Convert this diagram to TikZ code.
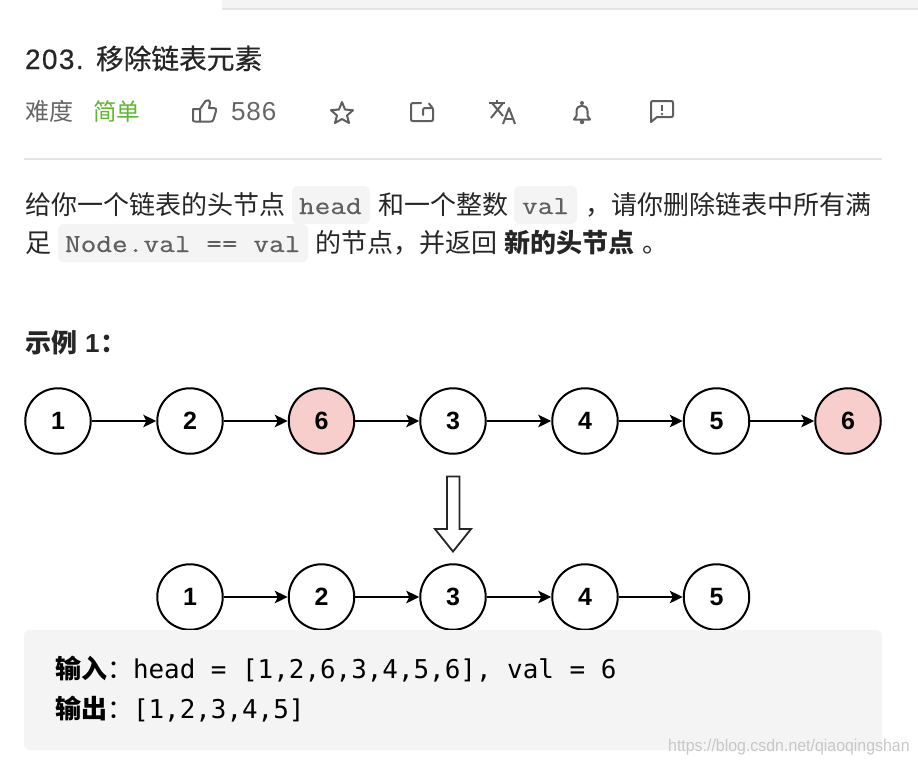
\documentclass[tikz,border=0pt]{standalone}
\usepackage{fontspec}
\usetikzlibrary{arrows.meta}
\setmainfont{Liberation Sans}
\setmonofont{Latin Modern Mono}
\newfontfamily\cjk{Noto Sans CJK SC}
\newfontfamily\cjkmid[FakeBold=0.5]{Noto Sans CJK SC}
\newfontfamily\blockmono{DejaVu Sans Mono}
\definecolor{ink}{HTML}{262626}
\definecolor{muted}{HTML}{666666}
\definecolor{easy}{HTML}{5CB82E}
\definecolor{chip}{HTML}{F4F4F4}
\definecolor{rule}{HTML}{E4E4E4}
\definecolor{icon}{HTML}{5F5F5F}
\definecolor{code}{HTML}{5F5F5F}
\definecolor{pinkfill}{HTML}{F8CECC}
\newcommand{\sz}[1]{\fontsize{#1}{#1}\selectfont}
\newcommand{\wmark}[1]{\scalebox{0.936}[1]{#1}}
\tikzset{
  x=1pt,y=-1pt,
  txt/.style={anchor=base west,inner sep=0pt,outer sep=0pt,text=ink,font=\cjk\sz{26}},
  codetxt/.style={anchor=base west,inner sep=0pt,outer sep=0pt,text=code,font=\ttfamily\addfontfeature{FakeStretch=1.172,FakeBold=0.4}\sz{26}},
  chipbox/.style={fill=chip,rounded corners=6pt,draw=none},
  lnode/.style={circle,draw=black,line width=2pt,minimum size=65.5pt,inner sep=0pt,fill=white,font=\bfseries\sz{25},text=black},
  rednode/.style={lnode,fill=pinkfill},
  link/.style={-{Stealth[length=13pt,width=12.5pt,inset=3pt]},line width=1.8pt,black},
  iconline/.style={draw=icon,line width=2pt,line join=round,line cap=round},
  blocktxt/.style={anchor=base west,inner sep=0pt,outer sep=0pt,text=black,font=\blockmono\sz{25.9}}
}
\begin{document}
\begin{tikzpicture}
\useasboundingbox (0,0) rectangle (918,764);
\fill[white] (0,0) rectangle (918,764);
% top strip
\fill[chip] (222,0) rectangle (918,8);
\fill[rule] (222,8) rectangle (918,10);
% title
\node[txt,font=\sz{28}\addfontfeature{LetterSpace=5,FakeBold=0.4}] (titlenum) at (25,69) {203.};
\node[txt,font=\cjkmid\sz{27.7}] (title) at (96,69) {移除链表元素};
% meta row
\node[txt,text=muted,font=\cjk\sz{24}] (diff) at (25,120) {难度};
\node[txt,text=easy,font=\cjk\sz{23.5}] (easyword) at (93,120) {简单};
\node[txt,text=muted,font=\sz{26}\addfontfeature{LetterSpace=4}] (likes) at (231,120) {586};
% thumb
\draw[iconline] (193,109) -- (200,109) -- (200,121.5) -- (195,121.5) .. controls (193.5,121.5) and (193,121) .. (193,120) -- cycle;
\draw[iconline] (200,109) -- (205.5,101) .. controls (207,99.5) and (210,100) .. (210,103) -- (209,108) -- (214,108) .. controls (216,108) and (216.5,109.5) .. (216,111) -- (213.5,119.5) .. controls (213,121) and (212,121.5) .. (211,121.5) -- (200,121.5);
% star
\draw[iconline] (342,102) -- (345,109.5) -- (353,110.2) -- (347,115.5) -- (349,123) -- (342,119) -- (335,123) -- (337,115.5) -- (331,110.2) -- (339,109.5) -- cycle;
% share
\draw[iconline] (421,103) -- (413,103) .. controls (411.5,103) and (411,104) .. (411,105) -- (411,119) .. controls (411,120.5) and (411.5,121) .. (413,121) -- (431,121) .. controls (432.5,121) and (433,120.5) .. (433,119) -- (433,109);
\draw[iconline] (423,115) -- (423,110) .. controls (423,108.5) and (424,108) .. (425,108) -- (432.5,108) -- (429,103.5);
% translate
\draw[iconline,line cap=butt] (489,103) -- (505,103);
\draw[iconline,line cap=butt] (497,100) -- (497,103);
\draw[iconline,line cap=butt] (492,103) -- (503,116);
\draw[iconline,line cap=butt] (503,103) -- (491,118);
\draw[iconline,line cap=butt] (503,124) -- (509,108) -- (515,124);
\draw[iconline,line cap=butt] (505,119) -- (513,119);
% bell
\draw[iconline] (574,119.5) -- (590,119.5) -- (587.5,116) -- (587.5,111) .. controls (587.5,104) and (576.5,104) .. (576.5,111) -- (576.5,116) -- cycle;
\fill[icon] (582,103) circle (2pt);
\fill[icon] (582,122) circle (2.2pt);
% comment
\draw[iconline] (653,101) -- (671,101) .. controls (672.5,101) and (673,101.5) .. (673,103) -- (673,115) .. controls (673,116.5) and (672.5,117) .. (671,117) -- (657,117) -- (651,122) -- (651,103) .. controls (651,101.5) and (651.5,101) .. (653,101) -- cycle;
\draw[draw=icon,line width=2.4pt] (662,105) -- (662,110.5);
\fill[icon] (662,114) circle (1.4pt);
% rule
\fill[rule] (24,158) rectangle (882,160);
% paragraph chips
\fill[chipbox] (292,186) rectangle (370,224);
\fill[chipbox] (514,186) rectangle (577,224);
\fill[chipbox] (58,224) rectangle (308,262);
% paragraph line 1
\node[txt] (p1a) at (25,214) {给你一个链表的头节点};
\node[codetxt] (p1b) at (299,214) {head};
\node[txt] (p1c) at (378,214) {和一个整数};
\node[codetxt] (p1d) at (522,214) {val};
\node[txt] (p1e) at (585,214) {，};
\node[txt] (p1f) at (611,214) {请你删除链表中所有满};
% paragraph line 2
\node[txt] (p2a) at (25,252) {足};
\node[codetxt] (p2b) at (65,252) {Node.val == val};
\node[txt] (p2c) at (315,252) {的节点，并返回};
\node[txt,font=\cjk\bfseries\sz{26}] (p2d) at (504,252) {新的头节点};
\node[txt] (p2e) at (642,252) {。};
% example heading
\node[txt,font=\cjk\bfseries\sz{26}] (ex) at (25,352) {示例};
\node[txt,font=\bfseries\sz{26}] (exn) at (85,352) {1};
\node[txt,font=\cjk\bfseries\sz{26}] (exc) at (100,352) {：};
% first list
\node[lnode] (a1) at (58,421) {1};
\node[lnode] (a2) at (190,421) {2};
\node[rednode] (a3) at (321.5,421) {6};
\node[lnode] (a4) at (453,421) {3};
\node[lnode] (a5) at (585,421) {4};
\node[lnode] (a6) at (716.5,421) {5};
\node[rednode] (a7) at (848,421) {6};
\foreach \p/\q in {a1/a2,a2/a3,a3/a4,a4/a5,a5/a6,a6/a7}{\draw[link] (\p) -- (\q);}
% hollow arrow
\draw[line width=1.8pt,black!85,fill=white,line join=miter] (447,476.5) -- (459.5,476.5) -- (459.5,529) -- (471,529) -- (453,551.5) -- (435,529) -- (447,529) -- cycle;
% second list
\node[lnode] (b1) at (190,597) {1};
\node[lnode] (b2) at (321.5,597) {2};
\node[lnode] (b3) at (453,597) {3};
\node[lnode] (b4) at (585,597) {4};
\node[lnode] (b5) at (716.5,597) {5};
\foreach \p/\q in {b1/b2,b2/b3,b3/b4,b4/b5}{\draw[link] (\p) -- (\q);}
% example block
\fill[chipbox] (24,630) rectangle (882,750);
\node[txt,text=black,font=\cjk\bfseries\sz{26}] (inl) at (55,678) {输入};
\node[txt,text=black] (inc) at (107,678) {：};
\node[blocktxt] (inv) at (133,678) {head = [1,2,6,3,4,5,6], val = 6};
\node[txt,text=black,font=\cjk\bfseries\sz{26}] (outl) at (55,718) {输出};
\node[txt,text=black] (outc) at (107,718) {：};
\node[blocktxt] (outv) at (133,718) {[1,2,3,4,5]};
% watermark
\node[anchor=base west,inner sep=0pt,text=black!22,font=\sz{17}] (wm) at (668,751) {\wmark{https://blog.csdn.net/qiaoqingshan}};
\end{tikzpicture}
\end{document}
